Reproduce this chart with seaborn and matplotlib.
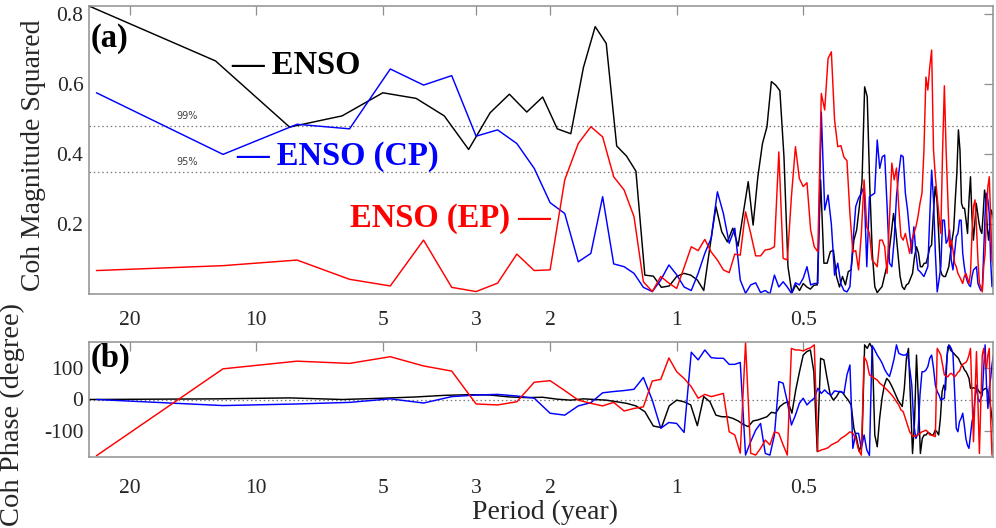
import numpy as np
import pandas as pd
import matplotlib
matplotlib.use("Agg")
import matplotlib.pyplot as plt
import seaborn as sns

# ---------------------------------------------------------------------------
# Coherence between the index records and the regional series.
# Spectral estimates sit at harmonics k = 1, 2, ... of each record length,
# i.e. at periods record_years / k.
# ---------------------------------------------------------------------------
series_names = ["ENSO", "ENSO (CP)", "ENSO (EP)"]
record_years = [25.0, 24.0, 24.0]

# magnitude-squared coherence
coh_enso = [
    0.823, 0.666, 0.477, 0.509, 0.575, 0.559, 0.509, 0.413, 0.518, 0.571,
    0.520, 0.563, 0.472, 0.458, 0.647, 0.764, 0.716, 0.423, 0.394, 0.351,
    0.054, 0.051, 0.019, 0.023, 0.050, 0.059, 0.054, 0.040, 0.010, 0.135,
    0.250, 0.178, 0.149, 0.188, 0.137, 0.230, 0.321, 0.197, 0.335, 0.430,
    0.478, 0.607, 0.597, 0.581, 0.392, 0.078, 0.003, 0.026, 0.010, 0.030,
    0.020, 0.014, 0.025, 0.026, 0.326, 0.088, 0.088, 0.121, 0.125, 0.050,
    0.020, 0.050, 0.026, 0.064, 0.069, 0.154, 0.183, 0.250, 0.321, 0.592,
    0.564, 0.307, 0.117, 0.021, 0.004, 0.013, 0.021, 0.050, 0.078, 0.120,
    0.173, 0.230, 0.183, 0.117, 0.050, 0.021, 0.013, 0.026, 0.030, 0.045,
    0.059, 0.107, 0.135, 0.117, 0.078, 0.078, 0.088, 0.088, 0.107, 0.133,
    0.140, 0.230, 0.307, 0.269, 0.173, 0.069, 0.054, 0.050, 0.050, 0.064,
    0.078, 0.117, 0.154, 0.183, 0.269, 0.345, 0.469, 0.411, 0.259, 0.245,
    0.245, 0.211, 0.173, 0.269, 0.335, 0.221, 0.154, 0.202, 0.259, 0.230,
    0.202, 0.183, 0.173, 0.230, 0.297, 0.269, 0.192, 0.154, 0.192, 0.240,
    0.230, 0.211,
]
coh_cp = [
    0.575, 0.399, 0.485, 0.472, 0.643, 0.597, 0.624, 0.451, 0.469, 0.430,
    0.359, 0.261, 0.230, 0.092, 0.116, 0.278, 0.086, 0.078, 0.059, 0.019,
    0.007, 0.040, 0.083, 0.055, 0.020, 0.010, 0.059, 0.116, 0.160, 0.292,
    0.230, 0.145, 0.188, 0.040, 0.002, 0.026, 0.032, 0.004, 0.010, 0.000,
    0.054, 0.020, 0.035, 0.020, 0.002, 0.032, 0.026, 0.045, 0.078, 0.026,
    0.030, 0.030, 0.520, 0.240, 0.283, 0.200, 0.054, 0.088, 0.029, 0.010,
    0.006, 0.021, 0.145, 0.250, 0.274, 0.288, 0.307, 0.078, 0.278, 0.283,
    0.288, 0.440, 0.359, 0.392, 0.397, 0.250, 0.088, 0.078, 0.154, 0.278,
    0.345, 0.397, 0.392, 0.288, 0.240, 0.173, 0.116, 0.192, 0.116, 0.069,
    0.064, 0.057, 0.050, 0.064, 0.078, 0.221, 0.354, 0.269, 0.116, 0.006,
    0.040, 0.078, 0.211, 0.211, 0.145, 0.154, 0.183, 0.097, 0.069, 0.116,
    0.164, 0.173, 0.211, 0.211, 0.116, 0.078, 0.050, 0.035, 0.026, 0.021,
    0.050, 0.069, 0.073, 0.078, 0.030, 0.019, 0.010, 0.012, 0.125, 0.230,
    0.288, 0.269, 0.230, 0.097, 0.021, 0.050, 0.059,
]
coh_ep = [
    0.067, 0.081, 0.097, 0.042, 0.023, 0.154, 0.019, 0.007, 0.031, 0.114,
    0.067, 0.069, 0.326, 0.430, 0.478, 0.449, 0.335, 0.297, 0.221, 0.035,
    0.007, 0.050, 0.031, 0.016, 0.076, 0.135, 0.124, 0.156, 0.120, 0.097,
    0.069, 0.061, 0.114, 0.111, 0.235, 0.173, 0.109, 0.109, 0.126, 0.128,
    0.135, 0.406, 0.102, 0.097, 0.278, 0.421, 0.330, 0.307, 0.318, 0.183,
    0.135, 0.121, 0.573, 0.526, 0.673, 0.692, 0.497, 0.421, 0.424, 0.391,
    0.381, 0.229, 0.120, 0.124, 0.069, 0.173, 0.326, 0.192, 0.173, 0.097,
    0.088, 0.078, 0.154, 0.154, 0.135, 0.059, 0.221, 0.374, 0.326, 0.360,
    0.249, 0.164, 0.154, 0.173, 0.145, 0.116, 0.154, 0.173, 0.192, 0.221,
    0.259, 0.288, 0.411, 0.620, 0.583, 0.649, 0.697, 0.411, 0.335, 0.278,
    0.221, 0.173, 0.411, 0.595, 0.411, 0.269, 0.135, 0.154, 0.126, 0.088,
    0.078, 0.059, 0.050, 0.040, 0.030, 0.050, 0.059, 0.045, 0.030, 0.059,
    0.173, 0.250, 0.269, 0.192, 0.097, 0.030, 0.021, 0.006, 0.078, 0.116,
    0.230, 0.307, 0.335, 0.221, 0.097, 0.078, 0.173,
]

# coherence phase (degree)
phase_enso = [
    0, 2, 5, 0, 4, 8, 13, 15, 14, 8,
    6, 7, 1, -2, 2, 0, -2, -7, -12, -20,
    -38, -83, -88, -20, -2, -7, -17, -82, 9, -7,
    -49, -54, -54, -59, -67, -78, -85, -67, -64, -59,
    -54, -40, -43, -22, -12, -7, -43, 30, 87, 139,
    150, 155, 87, -163, 129, 124, 66, 14, -2, 9,
    25, 22, 9, -2, -17, -90, -122, -163, -132, 171,
    160, 176, 160, -111, -148, -59, 4, 45, 66, 58,
    45, 30, 14, -2, -12, -22, 35, 129, 160, -7,
    -169, -69, 139, -7, -169, -122, -111, -111, -103, -106,
    -111, -111, -96, -101, -111, -59, 25, 45, 30, 139,
    171, 155, 150, 145, 139, 134, 129, 118, 108, 103,
    92, 87, 77, 66, 35, 35, 37, 35, 35, 33,
    25, 19, 25, 30, 33, 35, 30, 14, -7, -38,
    -69, -111,
]
phase_cp = [
    0, -19, -14, -9, 2, -11, 9, 14, 16, 11,
    4, -43, -49, -20, -10, 21, 25, 28, 32, 69,
    -2, -90, -72, -75, -103, 148, 124, 155, 131, 129,
    129, 110, 110, 116, -174, -132, -96, -75, -169, -174,
    -111, 56, 51, -7, -80, -49, -12, 4, -17, -5,
    4, 35, 19, 30, 19, 14, 27, 25, 25, 19,
    77, 108, -153, -106, -106, -153, -111, -158, -175, 169,
    155, 139, 127, 113, 94, 81, 72, 98, 129, 171,
    145, 141, 139, 139, 145, 98, 45, -80, -122, -106,
    14, 87, 87, 92, 103, 129, 139, 98, 45, 25,
    14, -2, 1, 4, 98, 165, 169, 160, 145, 25,
    -90, -101, -69, -59, -43, -80, -122, -143, -153, -111,
    -69, -49, 4, 45, 4, -7, 4, 14, 98, 171,
    45, -28, 35, 66, 108, 139, 35,
]
phase_ep = [
    -176, 96, 120, 113, 134, 105, 89, -14, -17, -7,
    54, 59, 28, -2, -12, -20, -9, -36, -28, -23,
    58, 63, 130, 87, 66, 40, 4, 16, 9, 14,
    19, -101, -111, -168, 178, -168, -174, -153, -127, -142,
    -101, -106, -142, -174, 160, 155, 155, 152, 158, 162,
    171, -163, -158, -155, -151, -142, -137, -132, -122, -116,
    -109, -101, -106, -122, -158, -174, 134, 118, 77, 71,
    66, 61, 51, 45, 37, 30, 22, 14, 4, -7,
    -17, -33, -38, -59, -80, -101, -111, -116, -113, -111,
    -106, -101, -99, -96, -101, -111, -111, -114, -116, 160,
    150, 139, 108, 77, 74, 71, 79, 82, 77, 71,
    77, 85, 89, 103, 110, 113, 116, 124, 139, 160,
    14, -132, 14, 150, -7, -169, -7, 139, 160, 118,
    98, 139, 160, -59, -174, -132, -111,
]

period_ticks = [20, 10, 5, 3, 2, 1, 0.5]
period_tick_labels = ["20", "10", "5", "3", "2", "1", "0.5"]
coh_ticks = [0.2, 0.4, 0.6, 0.8]
phase_ticks = [-100, 0, 100]
sig_levels = [0.48, 0.35]
sig_labels = ["99%", "95%"]

colors = {"ENSO": "#000000", "ENSO (CP)": "#0000ff", "ENSO (EP)": "#ff0000"}


def long_table(values_by_series):
    frames = []
    for name, years, vals in zip(series_names, record_years, values_by_series):
        k = np.arange(1, len(vals) + 1)
        frames.append(pd.DataFrame({"series": name,
                                    "period": years / k,
                                    "value": vals}))
    return pd.concat(frames, ignore_index=True)


coh_df = long_table([coh_enso, coh_cp, coh_ep])
phase_df = long_table([phase_enso, phase_cp, phase_ep])

sns.set_theme(style="white")
plt.rcParams["font.family"] = ["Liberation Serif", "DejaVu Serif"]

W, H = 996, 528
fig = plt.figure(figsize=(W / 100, H / 100), dpi=100)
ax1 = fig.add_axes([89 / W, 1 - 294 / H, 904 / W, 288 / H])
ax2 = fig.add_axes([89 / W, 1 - 457 / H, 904 / W, 115 / H])

frame_color = "#8f8f8f"
text_color = "#262626"

for ax, df, xpad in ((ax1, coh_df, 12.5), (ax2, phase_df, 16)):
    sns.lineplot(data=df, x="period", y="value", hue="series",
                 hue_order=series_names, palette=colors, estimator=None,
                 sort=False, legend=False, linewidth=1.05, ax=ax)
    ax.set_xscale("log")
    ax.set_xlim(25, 0.1768)
    ax.set_xticks(period_ticks)
    ax.set_xticklabels(period_tick_labels)
    ax.minorticks_off()
    ax.set_xlabel("")
    ax.set_ylabel("")
    for sp in ax.spines.values():
        sp.set_color(frame_color)
        sp.set_linewidth(1.1)
    ax.tick_params(direction="in", length=6.5, width=0.9, color=frame_color,
                   top=True, right=True, labelsize=15.5, labelcolor=text_color)
    ax.tick_params(axis="x", pad=xpad)
    ax.tick_params(axis="y", pad=4)

ax1.set_ylim(0, 0.823)
ax1.set_yticks(coh_ticks)
ax1.set_yticklabels([f"{t:.1f}" for t in coh_ticks])
for lvl, lab in zip(sig_levels, sig_labels):
    ax1.axhline(lvl, color="#7a7a7a", lw=0.9, ls=(0, (1.2, 2.2)), zorder=0)
    ax1.text(0.108, lvl + 0.028, lab, transform=ax1.get_yaxis_transform(),
             ha="center", va="center", fontsize=7, color="#404040",
             family=["DejaVu Sans"])

ax2.set_ylim(-180, 180)
ax2.set_yticks(phase_ticks)
ax2.set_yticklabels([str(t) for t in phase_ticks])
ax2.axhline(0, color="#7a7a7a", lw=0.9, ls=(0, (1.2, 2.2)), zorder=0)


def fx(px):
    return px / W


def fy(py):
    return 1 - py / H


bold = dict(fontsize=23.5, fontweight="bold", va="center")
fig.text(fx(231), fy(66), "\u2014 ENSO", color="#000000", ha="left", **bold)
fig.text(fx(236), fy(157), "\u2014 ENSO (CP)", color="#0000ff", ha="left", **bold)
fig.text(fx(551), fy(219), "ENSO (EP) \u2014", color="#ff0000", ha="right", **bold)

fig.text(fx(91), fy(39), "(a)", color="#000000", ha="left", **bold)
fig.text(fx(91), fy(358), "(b)", color="#000000", ha="left", **bold)

fig.text(fx(33), fy(155), "Coh Magnitude Squared", rotation=90,
         ha="center", va="center", fontsize=20, color=text_color)
fig.text(fx(12), fy(414), "Coh Phase (degree)", rotation=90,
         ha="center", va="center", fontsize=20.5, color=text_color)
fig.text(fx(545), fy(512), "Period (year)", ha="center", va="center",
         fontsize=20, color=text_color)

fig.savefig("out.png", dpi=100)
